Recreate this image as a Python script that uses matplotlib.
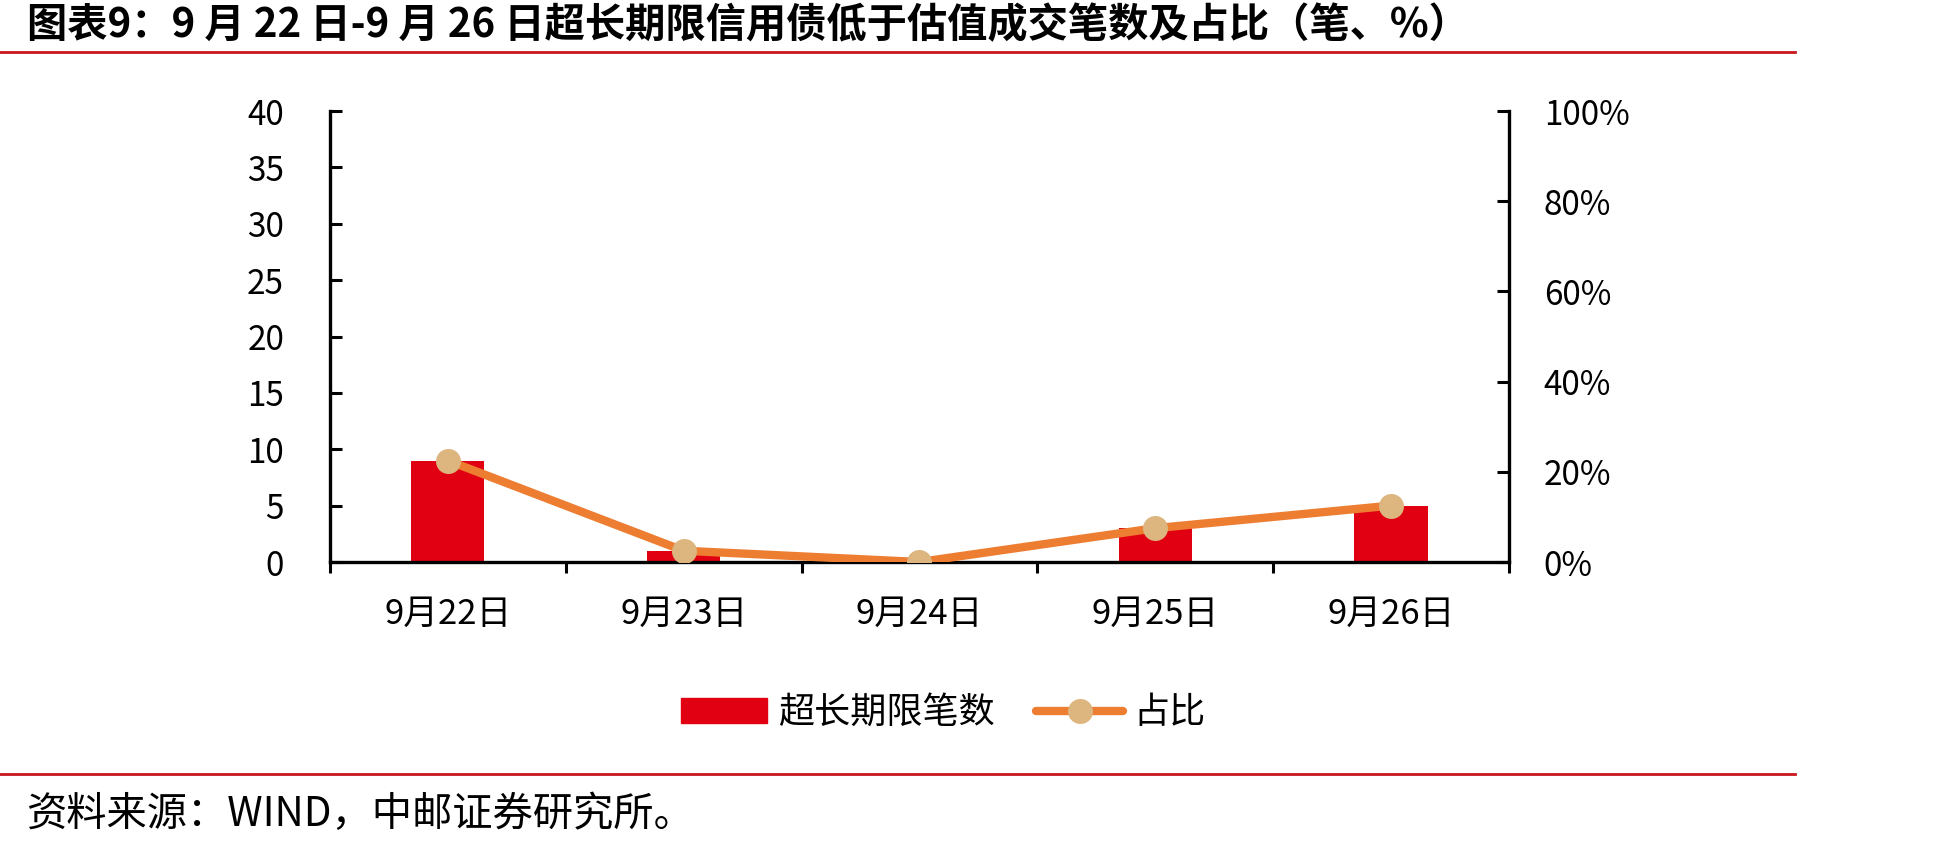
import matplotlib.pyplot as plt
from matplotlib.lines import Line2D
from matplotlib.patches import Patch
import numpy as np

plt.rcParams['font.family'] = ['Noto Sans CJK SC', 'DejaVu Sans']

# data
dates = ['9月22日', '9月23日', '9月24日', '9月25日', '9月26日']
counts = [9, 1, 0, 3, 5]
share = [22.5, 2.5, 0.0, 7.5, 12.5]  # %

title = '图表9：9 月 22 日-9 月 26 日超长期限信用债低于估值成交笔数及占比（笔、%）'
source = '资料来源：WIND，中邮证券研究所。'

bar_color = '#E10012'
line_color = '#ED7D31'
marker_color = '#DDB57E'
rule_color = '#C8161D'

fig = plt.figure(figsize=(19.43, 8.5), dpi=100)
ax = fig.add_axes([0.1698, 0.3388, 0.6068, 0.5306])
ax2 = ax.twinx()

x = np.arange(len(dates))
ax.bar(x, counts, width=0.31, color=bar_color, zorder=2)
ax2.plot(x, share, color=line_color, lw=6, marker='o', ms=17,
         mfc=marker_color, mec=marker_color, solid_capstyle='round', zorder=3)

ax.set_xlim(-0.5, len(dates) - 0.5)
ax.set_ylim(0, 40)
ax.set_yticks(range(0, 41, 5))
ax2.set_ylim(0, 100)
ax2.set_yticks(range(0, 101, 20))
ax2.set_yticklabels([f'{v}%' for v in range(0, 101, 20)])

ax.set_xticks(x)
ax.set_xticklabels(dates)
ax.set_xticks(np.arange(-0.5, len(dates), 1), minor=True)
ax.tick_params(axis='x', which='major', length=0, pad=25, labelsize=25)
ax.tick_params(axis='x', which='minor', length=8, width=2.2, direction='out')
ax.tick_params(axis='y', direction='in', length=8.5, width=2.2, pad=33, labelsize=24)
ax2.tick_params(axis='y', direction='in', length=8.5, width=2.2, pad=25, labelsize=24)

for a in (ax, ax2):
    a.spines['top'].set_visible(False)
    for s in ('left', 'right', 'bottom'):
        a.spines[s].set_linewidth(2.4)
ax.spines['right'].set_visible(False)
ax2.spines['left'].set_visible(False)
ax2.spines['bottom'].set_visible(False)

handles = [Patch(color=bar_color),
           Line2D([], [], color=line_color, lw=6, marker='o', ms=17,
                  mfc=marker_color, mec=marker_color, solid_capstyle='round')]
fig.legend(handles, ['超长期限笔数', '占比'], loc='center', ncol=2,
           bbox_to_anchor=(0.4855, 0.161), frameon=False, fontsize=26,
           handlelength=2.4, handletextpad=0.3, columnspacing=1.15)

# title and source with red rules
fig.text(0.014, 0.97, title, fontsize=29, fontweight='bold', va='center', ha='left')
fig.add_artist(Line2D([0, 1795 / 1943], [1 - 52 / 850] * 2, color=rule_color, lw=2))
fig.add_artist(Line2D([0, 1795 / 1943], [1 - 774 / 850] * 2, color=rule_color, lw=2))
fig.text(0.014, 1 - 814 / 850, source, fontsize=29, va='center', ha='left')

fig.savefig('out.png', dpi=100)
